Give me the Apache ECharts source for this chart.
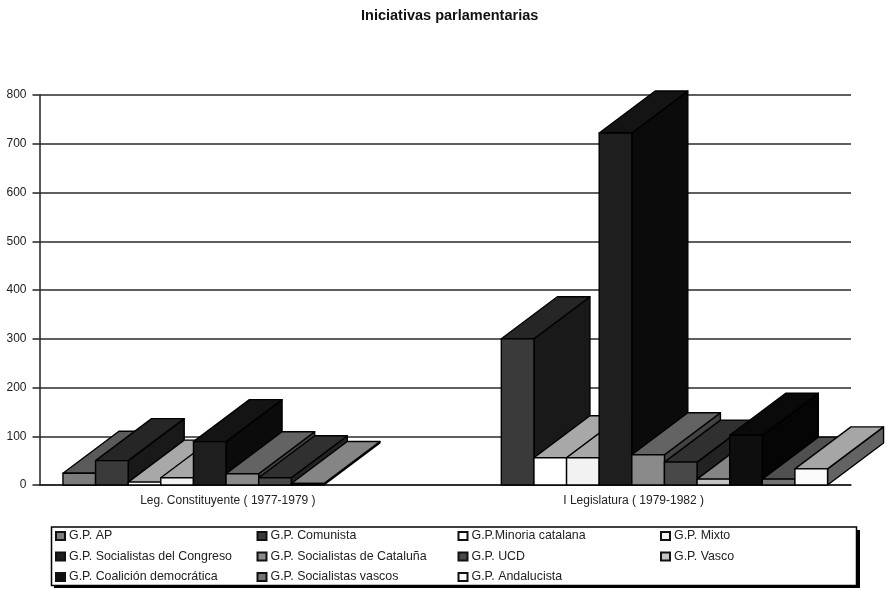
<!DOCTYPE html>
<html>
<head>
<meta charset="utf-8">
<style>html,body{margin:0;padding:0;background:#fff}#chart{width:887px;height:589px}</style>
<script src="https://cdn.jsdelivr.net/npm/echarts@6/dist/echarts.min.js"></script>
</head>
<body>
<div id="chart"></div>
<script>
const legislaturas = ['Leg. Constituyente ( 1977-1979 )', 'I Legislatura ( 1979-1982 )'];
const grupos = [
  'G.P. AP', 'G.P. Comunista', 'G.P.Minoria catalana', 'G.P. Mixto',
  'G.P. Socialistas del Congreso', 'G.P. Socialistas de Cataluña', 'G.P. UCD', 'G.P. Vasco',
  'G.P. Coalición democrática', 'G.P. Socialistas vascos', 'G.P. Andalucista'
];
// Initiatives per group, one value per legislature (null: group not present)
const gpAP = [24, null];
const gpComunista = [50, 300];
const gpMinoria = [6, 56];
const gpMixto = [15, 56];
const gpSocCongreso = [89, 722];
const gpSocCataluna = [23, 62];
const gpUCD = [15, 47];
const gpVasco = [3, 12];
const gpCoalicion = [null, 102];
const gpSocVascos = [null, 12];
const gpAndalucista = [null, 33];
const valores = [gpAP, gpComunista, gpMinoria, gpMixto, gpSocCongreso, gpSocCataluna,
  gpUCD, gpVasco, gpCoalicion, gpSocVascos, gpAndalucista];

// Face shades of each prism
const frontColors = ['#7c7c7c', '#3a3a3a', '#ffffff', '#f2f2f2', '#1e1e1e', '#8a8a8a', '#484848', '#c4c4c4', '#0e0e0e', '#747474', '#fbfbfb'];
const topColors = ['#5a5a5a', '#262626', '#a8a8a8', '#a8a8a8', '#141414', '#636363', '#303030', '#858585', '#0a0a0a', '#505050', '#a6a6a6'];
const sideColors = ['#3c3c3c', '#191919', '#707070', '#707070', '#0b0b0b', '#424242', '#222222', '#5c5c5c', '#050505', '#383838', '#636363'];

const slotShare = 0.0804;   // share of a category taken by one bar
const depthX = 56, depthY = 42;

function prism(seriesIndex) {
  return function (params, api) {
    const value = api.value(1);
    if (value == null || isNaN(value)) return null;
    const base = api.coord([api.value(0), 0]);
    const top = api.coord([api.value(0), value]);
    const slot = api.size([1, 0])[0] * slotShare;
    const x0 = base[0] + (seriesIndex - grupos.length / 2) * slot;
    const x1 = x0 + slot;
    const y0 = base[1], y1 = top[1];
    const line = { stroke: '#000', lineWidth: 1.4, lineJoin: 'round' };
    const face = (pts, fill) => ({
      type: 'polygon',
      shape: { points: pts },
      style: Object.assign({ fill }, line)
    });
    return {
      type: 'group',
      children: [
        face([[x1, y0], [x1 + depthX, y0 - depthY], [x1 + depthX, y1 - depthY], [x1, y1]], sideColors[seriesIndex]),
        face([[x0, y1], [x1, y1], [x1 + depthX, y1 - depthY], [x0 + depthX, y1 - depthY]], topColors[seriesIndex]),
        face([[x0, y0], [x1, y0], [x1, y1], [x0, y1]], frontColors[seriesIndex])
      ]
    };
  };
}

const legendColumns = [
  { left: 55, names: [grupos[0], grupos[4], grupos[8]] },
  { left: 256.5, names: [grupos[1], grupos[5], grupos[9]] },
  { left: 457.5, names: [grupos[2], grupos[6], grupos[10]] },
  { left: 660, names: [grupos[3], grupos[7]] }
];

const textFont = '"Liberation Sans", Arial, sans-serif';
const chart = echarts.init(document.getElementById('chart'), null, { renderer: 'canvas' });
chart.setOption({
  animation: false,
  backgroundColor: '#fff',
  title: {
    text: 'Iniciativas parlamentarias',
    left: 356,
    top: 3,
    textStyle: { fontFamily: textFont, fontSize: 14.5, fontWeight: 'bold', color: '#111' }
  },
  grid: { left: 39.5, right: 36, top: 95, bottom: 104 },
  xAxis: {
    type: 'category',
    data: legislaturas,
    axisLine: { lineStyle: { color: '#222', width: 1.5 } },
    axisTick: { show: false },
    axisLabel: { color: '#222', fontFamily: textFont, fontSize: 12, margin: 10, padding: [0, 29, 0, 0] }
  },
  yAxis: {
    type: 'value',
    min: 0,
    max: 800,
    interval: 100,
    axisLine: { show: true, lineStyle: { color: '#222', width: 1.5 } },
    axisTick: { show: true, length: 7, lineStyle: { color: '#222', width: 1.5 } },
    axisLabel: { color: '#222', fontFamily: textFont, fontSize: 12, margin: 13 },
    splitLine: { lineStyle: { color: '#2a2a2a', width: 1.5 } }
  },
  legend: legendColumns.map(col => ({
    orient: 'vertical',
    left: col.left,
    top: 530,
    padding: 0,
    data: col.names,
    icon: 'rect',
    itemWidth: 9,
    itemHeight: 8,
    itemGap: 8.5,
    selectedMode: false,
    textStyle: { color: '#222', fontFamily: textFont, fontSize: 12.4, padding: [0, 0, 0, -1] }
  })),
  graphic: [
    { type: 'rect', z: -2, shape: { x: 54, y: 530, width: 806, height: 58 }, style: { fill: '#000' } },
    { type: 'rect', z: -1, shape: { x: 51.5, y: 527, width: 805, height: 58.5 }, style: { fill: '#fff', stroke: '#000', lineWidth: 1.5 } }
  ],
  series: grupos.map((name, i) => ({
    type: 'custom',
    name,
    coordinateSystem: 'cartesian2d',
    renderItem: prism(i),
    encode: { x: 0, y: 1 },
    clip: false,
    itemStyle: { color: frontColors[i], borderColor: '#111', borderWidth: 1.2 },
    data: valores[i].map((v, c) => [c, v])
  }))
});
</script>
</body>
</html>
